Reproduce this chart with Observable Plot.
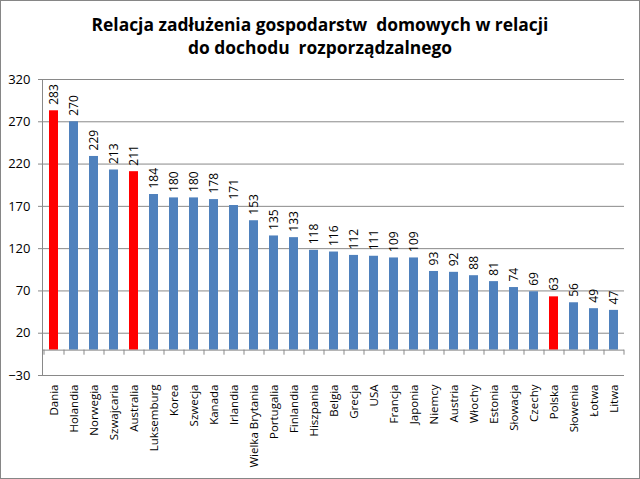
<!DOCTYPE html>
<html>
<head>
<meta charset="utf-8">
<script src="https://cdn.jsdelivr.net/npm/d3@7"></script>
<script src="https://cdn.jsdelivr.net/npm/@observablehq/plot@0.6"></script>
<style>
  html, body { margin: 0; padding: 0; background: #fff; }
  #wrap { width: 640px; height: 479px; box-sizing: border-box; border: 1px solid #868686; background: #fff; overflow: hidden; }
  #title { height: 60px; box-sizing: border-box; padding-top: 12px; text-align: center; font-family: "Open Sans", sans-serif; font-weight: bold; font-size: 17.4px; line-height: 23px; color: #000; white-space: pre; }
  svg { display: block; }
</style>
</head>
<body>
<div id="wrap">
  <div id="title">Relacja zadłużenia gospodarstw  domowych w relacji
do dochodu  rozporządzalnego</div>
  <div id="chart"></div>
</div>
<script>
const countries = ["Dania","Holandia","Norwegia","Szwajcaria","Australia","Luksemburg","Korea","Szwecja","Kanada","Irlandia","Wielka Brytania","Portugalia","Finlandia","Hiszpania","Belgia","Grecja","USA","Francja","Japonia","Niemcy","Austria","Włochy","Estonia","Słowacja","Czechy","Polska","Słowenia","Łotwa","Litwa"];
const values = [283,270,229,213,211,184,180,180,178,171,153,135,133,118,116,112,111,109,109,93,92,88,81,74,69,63,56,49,47];
const highlighted = ["Dania","Australia","Polska"];
const yTicks = [-30,20,70,120,170,220,270,320];

const data = countries.map((c, i) => ({country: c, value: values[i], hi: highlighted.includes(c)}));
const grid = "#898989";

const chart = Plot.plot({
  width: 638,
  height: 417,
  marginLeft: 41,
  marginRight: 15,
  marginTop: 18,
  marginBottom: 103,
  style: {fontFamily: "'Open Sans', sans-serif", background: "#fff", color: "#000"},
  x: {domain: countries, paddingInner: 0.55, paddingOuter: 0.275, axis: null},
  y: {domain: [-30, 320], axis: null},
  marks: [
    Plot.ruleY(yTicks, {stroke: grid, strokeWidth: 1, insetLeft: -4}),
    Plot.axisY({ticks: yTicks, tickSize: 0, tickPadding: 12, fontSize: 13, label: null, fill: "#000"}),
    Plot.frame({anchor: "left", stroke: grid}),
    Plot.barY(data, {x: "country", y1: 0, y2: "value", fill: d => d.hi ? "#FF0000" : "#4F81BD"}),
    Plot.ruleY([0], {stroke: grid}),
    Plot.ruleX(data, {x: "country", y1: 0, y2: -6, dx: -10, stroke: grid}),
    Plot.ruleX([countries[countries.length - 1]], {x: d => d, y1: 0, y2: -6, dx: 10, stroke: grid}),
    Plot.text(data, {x: "country", y: "value", text: d => String(d.value), rotate: -90, textAnchor: "start", dy: -6, fontSize: 12, fill: "#000"}),
    Plot.text(data, {x: "country", y: -30, text: "country", rotate: -90, textAnchor: "end", dy: 9, fontSize: 11.5, fill: "#000"})
  ]
});
document.getElementById("chart").appendChild(chart);
</script>
</body>
</html>
